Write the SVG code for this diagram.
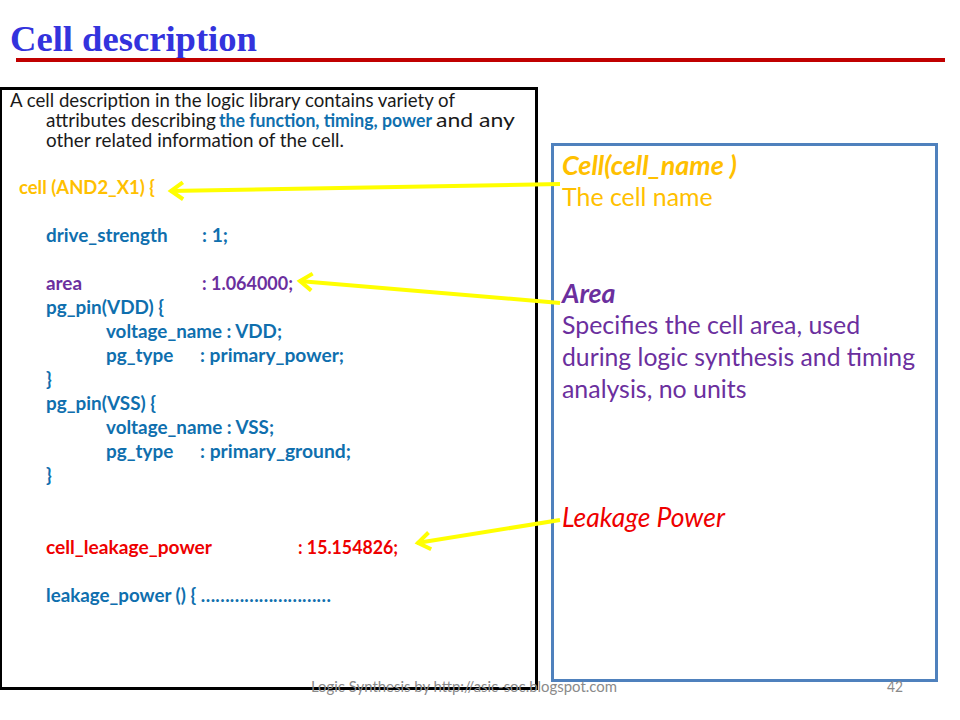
<svg xmlns="http://www.w3.org/2000/svg" width="960" height="720" viewBox="0 0 960 720">
<style>
text{font-family:Lato,"Noto Sans",sans-serif;white-space:pre}
.b{font-size:18.9px;font-weight:700}
.n{font-size:18.4px;fill:#1a1a1a}
.r{font-size:24.9px}
.ri{font-size:26.8px}
.blue{fill:#0F6FAE}.pur{fill:#6B2F9E}.red{fill:#EE0000}.gold{fill:#FFC000}
.i{font-style:italic;font-weight:700}
.arrow{fill:none;stroke:#FFFF00;stroke-width:4}
</style>
<defs><marker id="ah" markerUnits="userSpaceOnUse" markerWidth="22" markerHeight="22" refX="18" refY="10" orient="auto"><path d="M5 1.500 L17 10 L5 18.500" fill="none" stroke="#FFFF00" stroke-width="4"/></marker></defs>
<rect width="960" height="720" fill="#fff"/>
<g id="title"><text x="10" y="51" font-size="36.6" font-weight="700" fill="#3333DD" style="font-family:'Liberation Serif',serif">Cell description</text>
<rect x="16" y="58" width="929" height="4" fill="#C00000"/></g>
<g id="code-box"><rect x="0.5" y="88.5" width="536" height="600" fill="#fff" stroke="#000" stroke-width="3"/>
<text class="n" x="10" y="106.500" textLength="445" lengthAdjust="spacingAndGlyphs">A cell description in the logic library contains variety of</text>
<text class="n" x="46" y="126.500" textLength="170" lengthAdjust="spacingAndGlyphs">attributes describing</text>
<text class="n" x="219" y="126.500" textLength="213" lengthAdjust="spacingAndGlyphs" style="font-weight:700;fill:#0F6FAE">the function, timing, power</text>
<text class="n" x="436" y="126.500" textLength="79" lengthAdjust="spacingAndGlyphs">and any</text>
<text class="n" x="46" y="146.500" textLength="298" lengthAdjust="spacingAndGlyphs">other related information of the cell.</text>
<text class="b gold" x="19" y="194" textLength="136" lengthAdjust="spacingAndGlyphs">cell (AND2_X1) {</text>
<text class="b blue" x="46" y="242">drive_strength</text><text class="b blue" x="202" y="242" textLength="26" lengthAdjust="spacingAndGlyphs">: 1;</text>
<text class="b pur" x="46" y="290">area</text><text class="b pur" x="202" y="290" textLength="91" lengthAdjust="spacingAndGlyphs">: 1.064000;</text>
<text class="b blue" x="46" y="314">pg_pin(VDD) {</text>
<text class="b blue" x="106" y="338" textLength="176" lengthAdjust="spacingAndGlyphs">voltage_name : VDD;</text>
<text class="b blue" x="106" y="362">pg_type</text><text class="b blue" x="200" y="362" textLength="144" lengthAdjust="spacingAndGlyphs">: primary_power;</text>
<text class="b blue" x="46" y="386">}</text>
<text class="b blue" x="46" y="410">pg_pin(VSS) {</text>
<text class="b blue" x="106" y="434" textLength="168" lengthAdjust="spacingAndGlyphs">voltage_name : VSS;</text>
<text class="b blue" x="106" y="458">pg_type</text><text class="b blue" x="200" y="458" textLength="151" lengthAdjust="spacingAndGlyphs">: primary_ground;</text>
<text class="b blue" x="46" y="482">}</text>
<text class="b red" x="46" y="554" textLength="166" lengthAdjust="spacingAndGlyphs">cell_leakage_power</text><text class="b red" x="298" y="554" textLength="100" lengthAdjust="spacingAndGlyphs">: 15.154826;</text>
<text class="b blue" x="46" y="602" textLength="285" lengthAdjust="spacingAndGlyphs">leakage_power () { ………………………</text></g>
<g id="notes-box"><rect x="552.5" y="144.5" width="384" height="536" fill="#fff" stroke="#4F81BD" stroke-width="3"/>
<text class="ri gold i" x="562" y="174.500" textLength="175" lengthAdjust="spacingAndGlyphs">Cell(cell_name )</text>
<text class="r gold" x="562" y="206">The cell name</text>
<text class="ri pur i" x="562" y="302.500">Area</text>
<text class="r pur" x="562" y="334">Specifies the cell area, used</text>
<text class="r pur" x="562" y="366" textLength="353" lengthAdjust="spacingAndGlyphs">during logic synthesis and timing</text>
<text class="r pur" x="562" y="398">analysis, no units</text>
<text class="ri red" font-style="italic" x="562" y="526.500" textLength="163" lengthAdjust="spacingAndGlyphs">Leakage Power</text></g>
<g id="connectors">
<line class="arrow" x1="560" y1="184" x2="170" y2="191" marker-end="url(#ah)"/>
<line class="arrow" x1="560" y1="303" x2="299" y2="281" marker-end="url(#ah)"/>
<line class="arrow" x1="560" y1="520" x2="417" y2="543" marker-end="url(#ah)"/>
</g>
<g id="footer"><text x="311" y="692" fill="#8a8a8a" font-size="15" textLength="306" lengthAdjust="spacingAndGlyphs">Logic Synthesis by http://asic-soc.blogspot.com</text>
<text x="887" y="692" fill="#8a8a8a" font-size="15" textLength="16" lengthAdjust="spacingAndGlyphs">42</text></g>
</svg>
